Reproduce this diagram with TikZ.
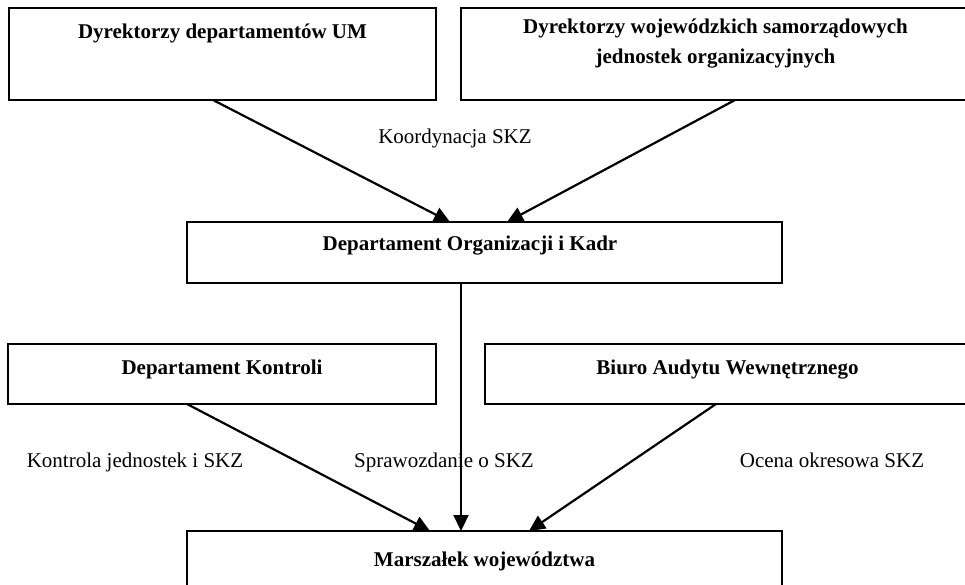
\documentclass[tikz,border=0pt]{standalone}
\usepackage{fontspec}
\setmainfont{Liberation Serif}
\usetikzlibrary{arrows.meta, positioning}

\begin{document}
\begin{tikzpicture}[
    x=1pt, y=-1pt,
    box/.style={draw, line width=1.8pt, inner xsep=0pt, inner ysep=0pt,
                outer sep=0pt, anchor=north west,
                font=\bfseries\fontsize{21}{30}\selectfont},
    lbl/.style={anchor=base, font=\fontsize{21}{30}\selectfont},
    arr/.style={-{Triangle[length=16pt, width=15pt]}, line width=2.2pt}
  ]
  \useasboundingbox (0,0) rectangle (965,585);
  \clip (0,0) rectangle (965,585);
  \node[box, minimum width=427pt, text height=31pt, text depth=61pt] (um) at (9,8)
    {Dyrektorzy departamentów UM};
  \node[box, right=25pt of um.north east, anchor=north west,
        minimum width=509pt, text height=26pt, text depth=66pt] (wsjo)
    {\begin{tabular}[t]{@{}c@{}}Dyrektorzy wojewódzkich samorządowych\\jednostek organizacyjnych\end{tabular}};
  \node[box, minimum width=595pt, text height=29pt, text depth=32pt] (doik) at (187,222)
    {Departament Organizacji i Kadr\hspace*{29pt}};
  \node[box, minimum width=428pt, text height=30pt, text depth=30pt] (dk) at (8,344)
    {Departament Kontroli};
  \node[box, right=49pt of dk.north east, anchor=north west,
        minimum width=485pt, text height=30pt, text depth=30pt] (bawn)
    {Biuro Audytu Wewnętrznego};
  \node[box, minimum width=595pt, text height=35pt, text depth=35pt] (marszalek) at (187,531)
    {Marszałek województwa};
  \node[lbl] (koord) at (455,144) {Koordynacja SKZ};
  \node[lbl] (kontr) at (135,467) {Kontrola jednostek i SKZ};
  \node[lbl] (spraw) at (444,467) {Sprawozdanie o SKZ};
  \node[lbl] (ocena) at (832,467) {Ocena okresowa SKZ};
  \draw[arr] ([xshift=-9.5pt]um.south) -- ([xshift=-34.5pt]doik.north);
  \draw[arr] ([xshift=19.5pt]wsjo.south) -- ([xshift=22.5pt]doik.north);
  \draw[arr] ([xshift=-23.5pt]doik.south) -- ([xshift=-23.5pt]marszalek.north);
  \draw[arr] ([xshift=-35pt]dk.south) -- ([xshift=-54.5pt]marszalek.north);
  \draw[arr] ([xshift=-11.5pt]bawn.south) -- ([xshift=44.5pt]marszalek.north);
\end{tikzpicture}
\end{document}
